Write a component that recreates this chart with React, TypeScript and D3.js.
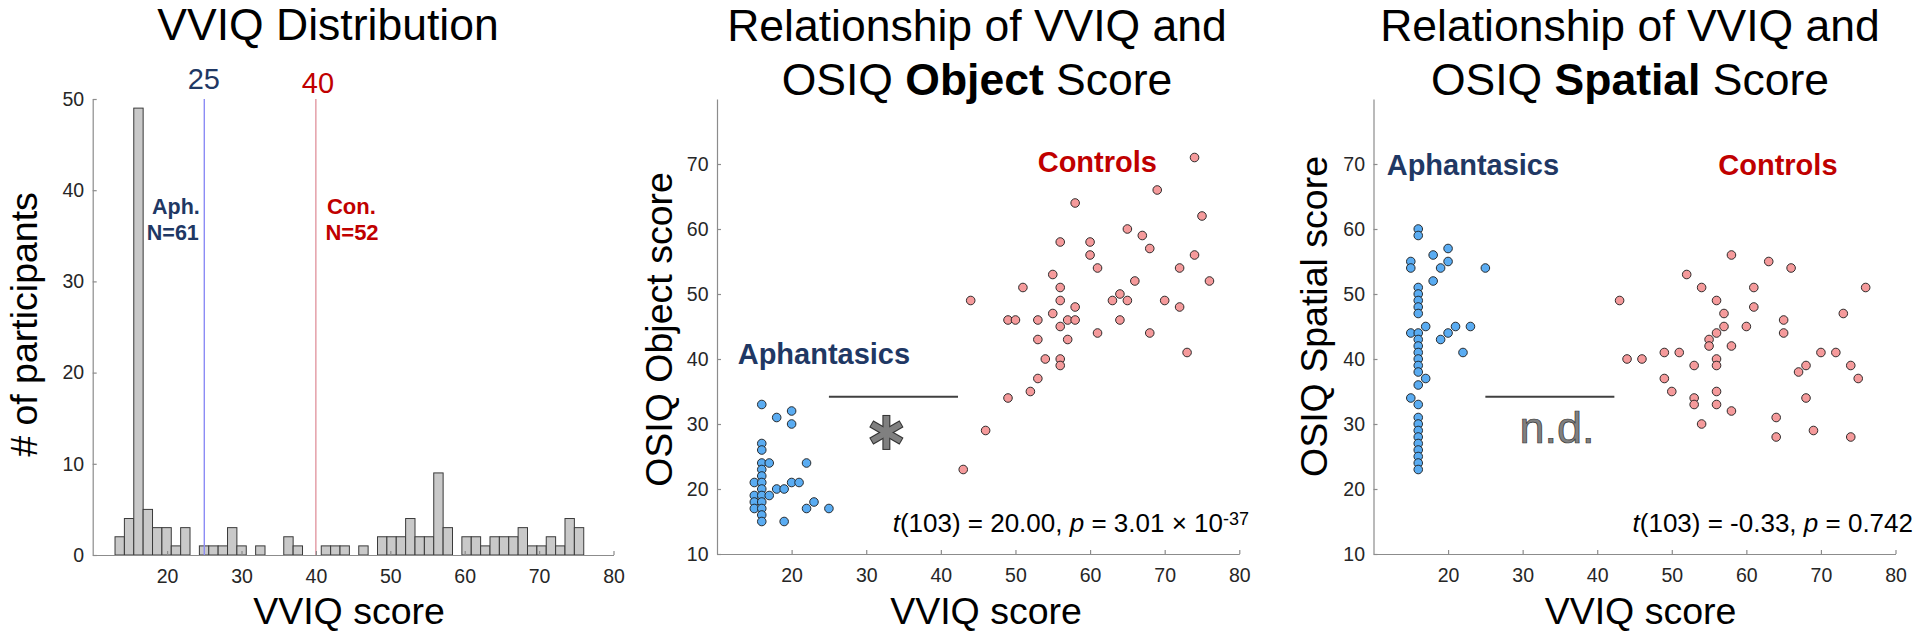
import * as d3 from "d3";
import { useEffect, useRef } from "react";

const FONT = "'Liberation Sans', Arial, sans-serif";
const NAVY = "#1f3864";
const RED = "#c00000";
const BLUE_DOT = "#5aacf2";
const RED_DOT = "#f59a9b";
const AXIS = "#8c8c8c";
const TICK_TEXT = "#262626";

// histogram: 50 bins starting at 13, bin width 1.26
const histStart = 13;
const histBinWidth = 1.26;
const histCounts = [
  2, 4, 49, 5, 3, 3, 1, 3, 0, 1, 1, 1, 3, 1, 0, 1, 0, 0, 2, 1, 0, 0, 1, 1, 1,
  0, 1, 0, 2, 2, 2, 4, 2, 2, 9, 3, 0, 2, 2, 1, 2, 2, 2, 3, 1, 1, 2, 1, 4, 3,
];
const aphCutoff = 25;
const conCutoff = 40;

// [VVIQ, OSIQ object]
const objectAph = [
  [16, 33], [18, 31], [20, 32], [20, 30], [16, 27], [16, 26], [16, 24], [17, 24],
  [22, 24], [16, 23], [16, 22], [15, 21], [16, 21], [20, 21], [21, 21], [16, 20],
  [18, 20], [19, 20], [15, 19], [16, 19], [17, 19], [15, 18], [16, 18], [23, 18],
  [15, 17], [16, 17], [22, 17], [25, 17], [16, 16], [16, 15], [19, 15],
];
const objectCon = [
  [74, 71], [69, 66], [58, 64], [75, 62], [65, 60], [67, 59], [56, 58], [60, 58],
  [68, 57], [60, 56], [74, 56], [61, 54], [72, 54], [55, 53], [66, 52], [76, 52],
  [51, 51], [56, 51], [44, 49], [56, 49], [63, 49], [65, 49], [70, 49], [64, 50],
  [58, 48], [72, 48], [55, 47], [49, 46], [50, 46], [53, 46], [57, 46], [58, 46],
  [64, 46], [56, 45], [53, 43], [57, 43], [61, 44], [68, 44], [54, 40], [56, 40],
  [56, 39], [73, 41], [53, 37], [52, 35], [49, 34], [46, 29], [43, 23],
];

// [VVIQ, OSIQ spatial]
const spatialAph = [
  [16, 60], [16, 59], [15, 55], [15, 54], [18, 56], [20, 57], [20, 55], [19, 54],
  [25, 54], [18, 52], [16, 51], [16, 50], [16, 49], [16, 48], [16, 47], [17, 45],
  [21, 45], [23, 45], [15, 44], [16, 44], [20, 44], [16, 43], [19, 43], [16, 42],
  [16, 41], [22, 41], [16, 40], [16, 39], [16, 38], [17, 37], [16, 36], [15, 34],
  [16, 33], [16, 31], [16, 30], [16, 29], [16, 28], [16, 27], [16, 26], [16, 25],
  [16, 24], [16, 23],
];
const spatialCon = [
  [58, 56], [63, 55], [66, 54], [52, 53], [54, 51], [61, 51], [76, 51], [43, 49],
  [56, 49], [61, 48], [57, 47], [73, 47], [65, 46], [57, 45], [60, 45], [56, 44],
  [65, 44], [55, 43], [55, 42], [58, 42], [44, 40], [46, 40], [56, 40], [49, 41],
  [51, 41], [70, 41], [72, 41], [53, 39], [56, 39], [68, 39], [74, 39], [67, 38],
  [49, 37], [75, 37], [50, 35], [56, 35], [53, 34], [68, 34], [53, 33], [56, 33],
  [58, 32], [54, 30], [64, 31], [69, 29], [64, 28], [74, 28],
];

const xTicks = [20, 30, 40, 50, 60, 70, 80];
const histYTicks = [0, 10, 20, 30, 40, 50];
const osiqTicks = [10, 20, 30, 40, 50, 60, 70];

// significance bar between groups
const sigFrom = 25;
const sigTo = 42.3;
const sigLevel = 34.2;

const drawAxes = (g, x, y, yTicks, bottom, left) => {
  const xa = g
    .append("g")
    .attr("transform", `translate(0,${bottom})`)
    .call(d3.axisBottom(x).tickValues(xTicks).tickSizeInner(-4).tickSizeOuter(0).tickPadding(14));
  const ya = g
    .append("g")
    .attr("transform", `translate(${left},0)`)
    .call(d3.axisLeft(y).tickValues(yTicks).tickSizeInner(-4).tickSizeOuter(0).tickPadding(8.5));
  [xa, ya].forEach((a) => {
    a.attr("font-family", FONT).attr("font-size", 19.5);
    a.select(".domain").attr("stroke", AXIS).attr("stroke-width", 1.2);
    a.selectAll(".tick line").attr("stroke", AXIS).attr("stroke-width", 1.2);
    a.selectAll(".tick text").attr("fill", TICK_TEXT);
  });
};

const addText = (svg, x, y, str, size, opts: any = {}) =>
  svg
    .append("text")
    .attr("x", x)
    .attr("y", y)
    .attr("font-family", FONT)
    .attr("font-size", size)
    .attr("font-weight", opts.bold ? "bold" : "normal")
    .attr("fill", opts.fill || "#000")
    .attr("text-anchor", opts.anchor || "middle")
    .text(str);

const twoLineTitle = (svg, cx, boldWord) => {
  addText(svg, cx, 40.5, "Relationship of VVIQ and", 44.5);
  const t = addText(svg, cx, 95, "", 44.5);
  t.append("tspan").text("OSIQ ");
  t.append("tspan").attr("font-weight", "bold").text(boldWord);
  t.append("tspan").text(" Score");
};

const yLabel = (svg, x, cy, str) =>
  addText(svg, 0, 0, str, 37.5).attr("transform", `translate(${x},${cy}) rotate(-90)`);

const statText = (svg, xEnd, t, p, sup) => {
  const s = addText(svg, xEnd, 532, "", 26, { anchor: "end" });
  s.append("tspan").attr("font-style", "italic").text("t");
  s.append("tspan").text(`(103) = ${t}, `);
  s.append("tspan").attr("font-style", "italic").text("p");
  s.append("tspan").text(` = ${p}`);
  if (sup) s.append("tspan").attr("dy", -7.5).attr("font-size", 18).text(sup);
};

const drawDots = (g, x, y, data, fill) =>
  g
    .append("g")
    .selectAll("circle")
    .data(data)
    .join("circle")
    .attr("cx", (d) => x(d[0]))
    .attr("cy", (d) => y(d[1]))
    .attr("r", 4.3)
    .attr("fill", fill)
    .attr("stroke", "#1a1a1a")
    .attr("stroke-width", 0.9);

const scatterPanel = (svg, left, right, aph, con) => {
  const x = d3.scaleLinear().domain([10, 80]).range([left, right]);
  const y = d3.scaleLinear().domain([10, 80]).range([554, 99]);
  const g = svg.append("g");
  drawAxes(g, x, y, osiqTicks, 554, left);
  g.append("line")
    .attr("x1", x(sigFrom))
    .attr("x2", x(sigTo))
    .attr("y1", y(sigLevel))
    .attr("y2", y(sigLevel))
    .attr("stroke", "#404040")
    .attr("stroke-width", 2);
  drawDots(g, x, y, aph, BLUE_DOT);
  drawDots(g, x, y, con, RED_DOT);
  return { x, y, g };
};

const createFigure = () => {
  const svg = d3
    .create("svg")
    .attr("width", 1920)
    .attr("height", 632)
    .attr("viewBox", [0, 0, 1920, 632])
    .style("position", "absolute")
    .style("left", 0)
    .style("top", 0)
    .style("background", "#fff");

  // ---- panel 1: histogram
  const hx = d3.scaleLinear().domain([10, 80]).range([92.7, 613.5]);
  const hy = d3.scaleLinear().domain([0, 50]).range([555, 99]);
  const bins = histCounts.map((c, i) => ({
    x0: histStart + i * histBinWidth,
    x1: histStart + (i + 1) * histBinWidth,
    c,
  }));
  const h = svg.append("g");
  h.append("g")
    .selectAll("rect")
    .data(bins.filter((b) => b.c > 0))
    .join("rect")
    .attr("x", (d) => hx(d.x0))
    .attr("width", (d) => hx(d.x1) - hx(d.x0))
    .attr("y", (d) => hy(d.c))
    .attr("height", (d) => hy(0) - hy(d.c))
    .attr("fill", "#c9c9c9")
    .attr("stroke", "#3a3a3a")
    .attr("stroke-width", 1);
  h.append("line")
    .attr("x1", hx(aphCutoff))
    .attr("x2", hx(aphCutoff))
    .attr("y1", hy(50))
    .attr("y2", hy(0))
    .attr("stroke", "#8c8cf5")
    .attr("stroke-width", 1.4);
  h.append("line")
    .attr("x1", hx(conCutoff))
    .attr("x2", hx(conCutoff))
    .attr("y1", hy(50))
    .attr("y2", hy(0))
    .attr("stroke", "#d6707e")
    .attr("stroke-width", 1);
  drawAxes(h, hx, hy, histYTicks, 555, 92.7);

  addText(svg, 328, 40, "VVIQ Distribution", 44.5);
  addText(svg, hx(aphCutoff) - 0.5, 88.5, String(aphCutoff), 29, { fill: NAVY });
  addText(svg, hx(conCutoff) + 2, 92.5, String(conCutoff), 29, { fill: RED });
  addText(svg, hx(aphCutoff) - 4.5, 214, "Aph.", 21.5, { bold: true, fill: NAVY, anchor: "end" });
  addText(svg, hx(aphCutoff) - 5.5, 240, "N=61", 21.5, { bold: true, fill: NAVY, anchor: "end" });
  addText(svg, hx(conCutoff) + 11, 214, "Con.", 22, { bold: true, fill: RED, anchor: "start" });
  addText(svg, hx(conCutoff) + 9.5, 240, "N=52", 22, { bold: true, fill: RED, anchor: "start" });
  yLabel(svg, 36.5, 324.5, "# of participants");
  addText(svg, 349, 624, "VVIQ score", 37.5);

  // ---- panel 2: object score
  const p2 = scatterPanel(svg, 717, 1239.3, objectAph, objectCon);
  twoLineTitle(svg, 977, "Object");
  yLabel(svg, 672, 329.5, "OSIQ Object score");
  addText(svg, 986, 624, "VVIQ score", 37.5);
  addText(svg, 737.7, 364, "Aphantasics", 29, { bold: true, fill: NAVY, anchor: "start" });
  addText(svg, 1037.7, 172, "Controls", 29, { bold: true, fill: RED, anchor: "start" });
  statText(svg, 1249, "20.00", "3.01 × 10", "-37");

  // asterisk
  const ax = p2.x(32.7);
  const ay = p2.y(28.7);
  const arms = [90, 30, -30].map((deg) => {
    const r = (deg * Math.PI) / 180;
    return [Math.cos(r), Math.sin(r)];
  });
  const star = svg.append("g").attr("transform", `translate(${ax},${ay})`);
  [
    { len: 17.5, w: 8, c: "#333" },
    { len: 16.5, w: 5.8, c: "#808080" },
  ].forEach((s) =>
    star
      .append("g")
      .selectAll("line")
      .data(arms)
      .join("line")
      .attr("x1", (d) => -d[0] * s.len)
      .attr("y1", (d) => -d[1] * s.len)
      .attr("x2", (d) => d[0] * s.len)
      .attr("y2", (d) => d[1] * s.len)
      .attr("stroke", s.c)
      .attr("stroke-width", s.w)
  );

  // ---- panel 3: spatial score
  const p3 = scatterPanel(svg, 1373.5, 1895.5, spatialAph, spatialCon);
  twoLineTitle(svg, 1630, "Spatial");
  yLabel(svg, 1327, 316.5, "OSIQ Spatial score");
  addText(svg, 1640.5, 624, "VVIQ score", 37.5);
  addText(svg, 1386.7, 175, "Aphantasics", 29, { bold: true, fill: NAVY, anchor: "start" });
  addText(svg, 1718.3, 175, "Controls", 29, { bold: true, fill: RED, anchor: "start" });
  statText(svg, 1913, "-0.33", "0.742", null);
  addText(svg, p3.x(34.6), p3.y(27.1), "n.d.", 45, { fill: "#808080" })
    .attr("stroke", "#333")
    .attr("stroke-width", 0.7);

  return svg.node();
};

export default function App() {
  const ref = useRef<HTMLDivElement>(null);

  useEffect(() => {
    const node = createFigure();
    ref.current.innerHTML = "";
    ref.current.appendChild(node);
  }, []);

  return <div ref={ref} />;
}
